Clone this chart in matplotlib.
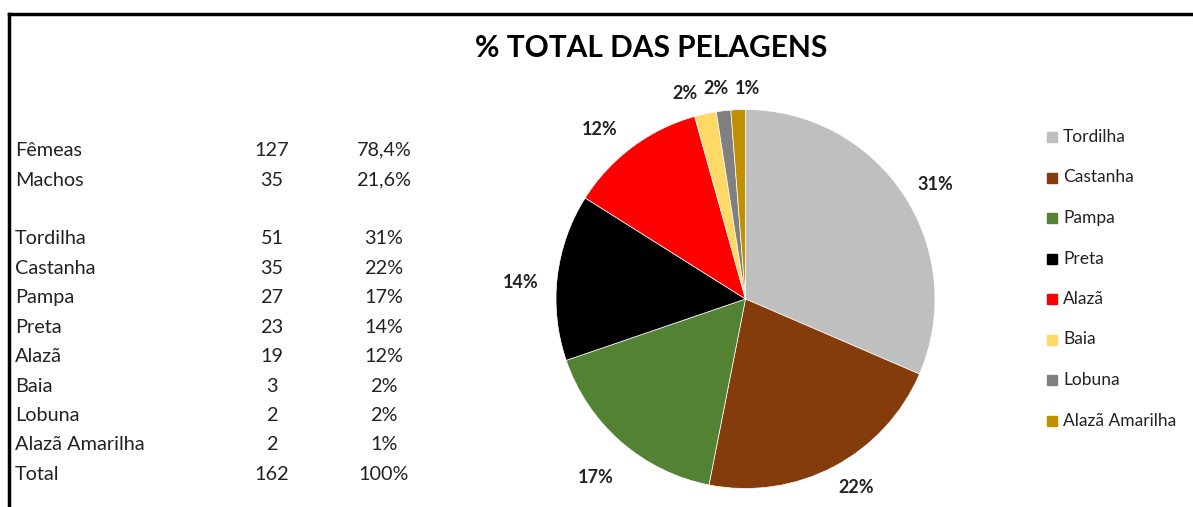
import matplotlib
matplotlib.use("Agg")
import matplotlib.pyplot as plt
import numpy as np
from matplotlib.lines import Line2D
from matplotlib.patches import Rectangle

plt.rcParams['font.family'] = ['Lato', 'DejaVu Sans']

title = "% TOTAL DAS PELAGENS"
sex_labels = ["Fêmeas", "Machos"]
sex_counts = ["127", "35"]
sex_pcts = ["78,4%", "21,6%"]
categories = ["Tordilha", "Castanha", "Pampa", "Preta", "Alazã", "Baia", "Lobuna", "Alazã Amarilha"]
counts = [51, 35, 27, 23, 19, 3, 2, 2]
table_pcts = ["31%", "22%", "17%", "14%", "12%", "2%", "2%", "1%"]
pct_labels = ["31%", "22%", "17%", "14%", "12%", "2%", "2%", "1%"]
total_label = ["Total", "162", "100%"]
colors = ["#BFBFBF", "#843C0C", "#548235", "#000000", "#FF0000", "#FFD966", "#808080", "#BF9000"]

W, H = 1193, 507
fig = plt.figure(figsize=(W / 100, H / 100), dpi=100)
fig.patch.set_facecolor("white")

def fx(px):
    return px / W

def fy(py):
    return 1 - py / H

# border lines (left and top)
fig.add_artist(Line2D([fx(9), fx(9)], [fy(14), 0], color="black", lw=2.5))
fig.add_artist(Line2D([fx(9), 1], [fy(14), fy(14)], color="black", lw=2.5))

# title
fig.text(fx(651), fy(48), title, ha="center", va="center", fontsize=21.5, fontweight="bold")

# table
rows = [(sex_labels[0], sex_counts[0], sex_pcts[0]),
        (sex_labels[1], sex_counts[1], sex_pcts[1])]
rows += [(c, str(n), p) for c, n, p in zip(categories, counts, table_pcts)]
rows.append(tuple(total_label))
ys = [150, 180] + [239 + 29.4 * i for i in range(9)]
for (a, b, c), y in zip(rows, ys):
    fig.text(fx(15), fy(y), a, ha="left", va="center", fontsize=14.3, color="#222222")
    fig.text(fx(272), fy(y), b, ha="center", va="center", fontsize=14.3, color="#222222")
    fig.text(fx(384), fy(y), c, ha="center", va="center", fontsize=14.3, color="#222222")

# pie
cx, cy, r = 745.5, 299, 189.5
ax = fig.add_axes([fx(cx - r), fy(cy + r), 2 * r / W, 2 * r / H])
wedges, _ = ax.pie(counts, colors=colors, startangle=90, counterclock=False,
                   wedgeprops=dict(linewidth=0.5, edgecolor="white"))
ax.set_xlim(-1, 1)
ax.set_ylim(-1, 1)
ax.axis("off")

dists = [1.17, 1.15, 1.23, 1.19, 1.18, 1.13, 1.12, 1.11]
ang_shift = [-2.1, 2.6, 1.1, 2.4, 4.2, 4.3, 1.2, -2.8]
for w, lab, d, s in zip(wedges, pct_labels, dists, ang_shift):
    ang = np.deg2rad((w.theta1 + w.theta2) / 2 + s)
    ax.text(d * np.cos(ang), d * np.sin(ang), lab, ha="center", va="center",
            fontsize=13, fontweight="bold", color="#222222", clip_on=False)

# legend
leg_ys = [137 + 40.5 * i for i in range(len(categories))]
for c, col, y in zip(categories, colors, leg_ys):
    fig.add_artist(Rectangle((fx(1047), fy(y + 5)), 10 / W, 10 / H, color=col,
                             transform=fig.transFigure))
    fig.text(fx(1063), fy(y), c, ha="left", va="center", fontsize=12.5, color="#222222")

fig.savefig("out.png", dpi=100)
